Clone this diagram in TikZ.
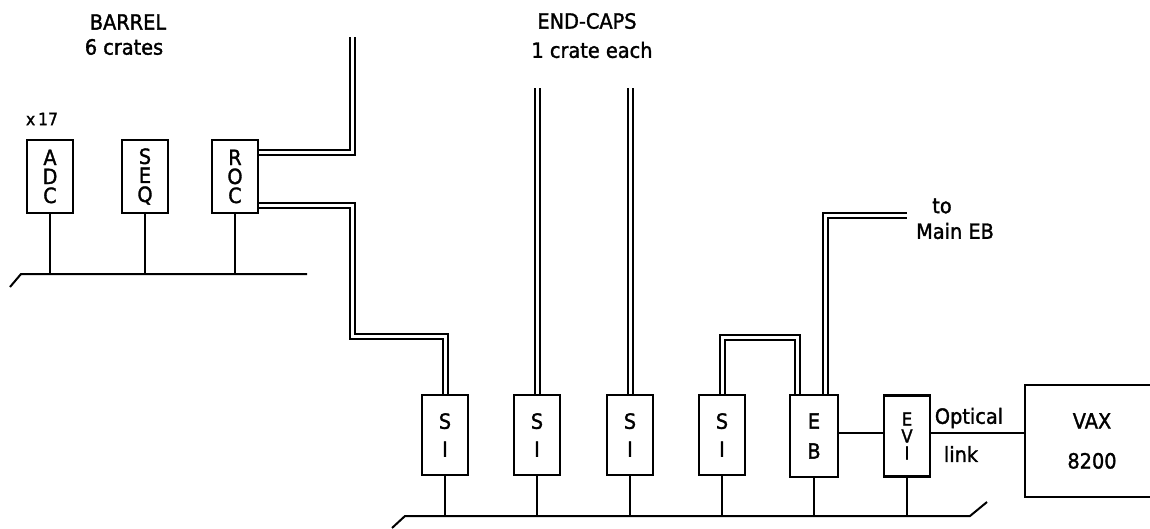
\documentclass[tikz,border=0pt]{standalone}
\usepackage{fontspec}
\setmainfont{DejaVu Sans}[FakeStretch=0.92, FakeBold=1.5]
\begin{document}
\begin{tikzpicture}[x=1pt, y=-1pt,
    module/.style={draw, line width=2.5pt, minimum width=46pt, minimum height=73pt,
      inner sep=0pt, align=center, font=\fontsize{21}{19}\selectfont},
    cable/.style={double, double distance=3pt, line width=2pt},
    wire/.style={line width=2pt},
    lbl/.style={font=\fontsize{21}{24}\selectfont}]
  \clip (0,0) rectangle (1150,529);

  \node[lbl] (barrel) at (128,22) {BARREL};
  \node[lbl] (crates) at (124,47) {6 crates};
  \node[lbl] (endcaps) at (587,21) {END-CAPS};
  \node[lbl] (each) at (592,50) {1 crate each};
  \node[font=\fontsize{17}{18}\selectfont] (mult) at (42,119) {x\,17};

  \node[module] (adc) at (50,176.5) {A\\D\\C};
  \node[module] (seq) at (145,176.5) {S\\E\\Q};
  \node[module] (roc) at (235,176.5) {R\\O\\C};

  \foreach \n/\x in {si1/445, si2/537, si3/630, si4/722}
    \node[module, minimum height=80pt] (\n) at (\x,435) {S\\[9pt]I};
  \node[module, minimum width=48pt, minimum height=82pt] (eb) at (814,436) {E\\[11pt]B};
  \node[module, minimum height=81pt, font=\fontsize{18}{17}\selectfont] (evi) at (907,436) {E\\V\\I};
  \node[draw, line width=2.5pt, minimum width=134pt, minimum height=112pt,
    inner sep=0pt, align=center, font=\fontsize{21}{40}\selectfont] (vax) at (1092,441) {VAX\\8200};

  % crate buses
  \coordinate (busL) at (21,274);
  \coordinate (busR) at (405,516);
  \draw[wire] (10,287) -- (busL) -- (307,274);
  \draw[wire] (392,528) -- (busR) -- (970,516) -- (987,502);
  \foreach \n in {adc, seq, roc}
    \draw[wire] (\n.south) -- (\n.south |- busL);
  \foreach \n in {si1, si2, si3, si4, eb, evi}
    \draw[wire] (\n.south) -- (\n.south |- busR);

  % cables
  \coordinate (rocTop) at (352,37);
  \coordinate (ecTop) at (0,88);
  \coordinate (mainEB) at (907,216);
  \draw[cable] ([yshift=24pt]roc.east) -| (rocTop);
  \draw[cable] ([yshift=-29pt]roc.east) -| (352,336) -| (si1.north);
  \draw[cable] (si2.north) -- (si2.north |- ecTop);
  \draw[cable] (si3.north) -- (si3.north |- ecTop);
  \draw[cable] (si4.north) -- ++(0,-56) -| ([xshift=-17pt]eb.north);
  \draw[cable] ([xshift=11pt]eb.north) |- (mainEB);
  \node[lbl] (tolbl) at (942,206) {to};
  \node[lbl] (mainlbl) at (955,231) {Main EB};

  % links
  \draw[wire] ([yshift=3pt]eb.east) -- ([yshift=3pt]evi.west);
  \draw[wire] ([yshift=3pt]evi.east) -- ([yshift=3pt]evi.east -| vax.west);
  \node[lbl] (optical) at (969,418) {Optical};
  \node[lbl] (link) at (961,454) {link};
\end{tikzpicture}
\end{document}
